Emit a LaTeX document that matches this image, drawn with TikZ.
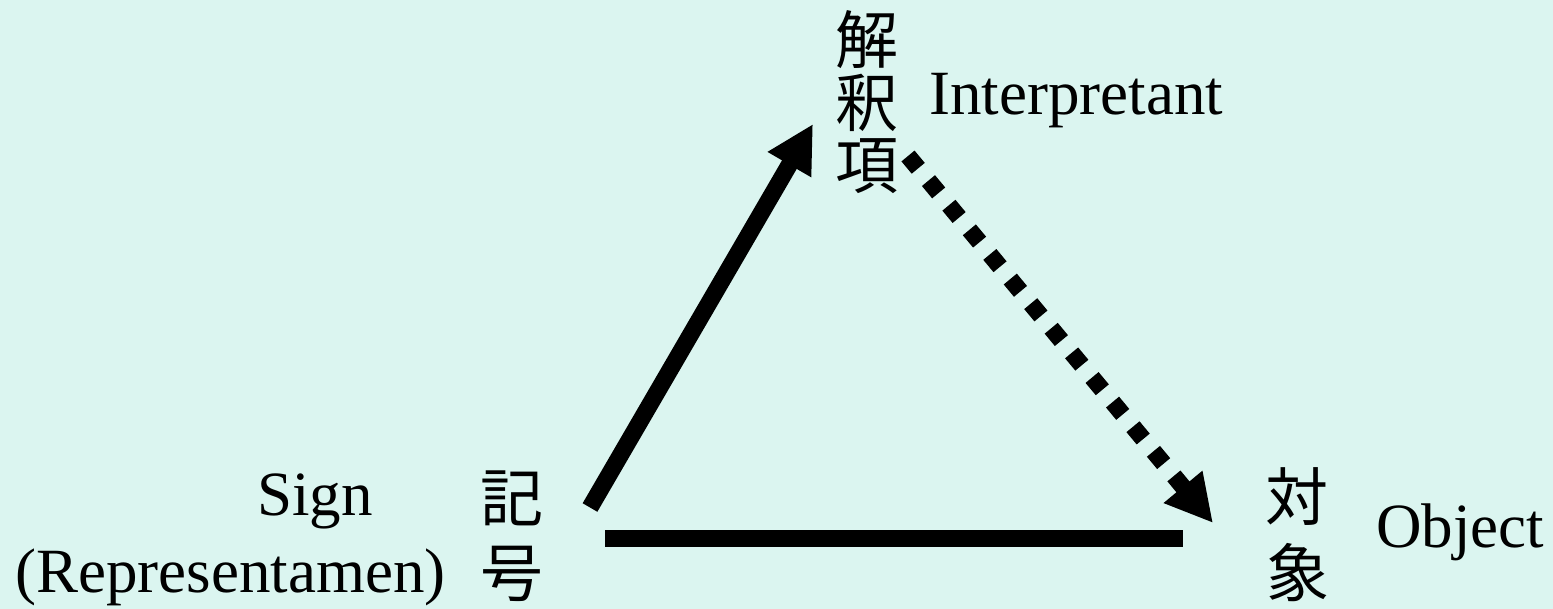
\documentclass[tikz,border=0pt]{standalone}
\usepackage{fontspec}
\setmainfont{Liberation Serif}
\newfontfamily\cjk{Noto Sans CJK JP}
\usetikzlibrary{arrows.meta}
\definecolor{bg}{RGB}{219,245,240}
\begin{document}
\begin{tikzpicture}[x=1pt,y=-1pt,
  lbl/.style={inner sep=0pt, anchor=base west, font=\fontsize{63}{70}\selectfont},
  kj/.style={inner sep=0pt, anchor=center, font=\cjk\fontsize{63}{70}\selectfont},
  link/.style={line width=17pt},
  tipstyle/.style={-{Triangle[length=47pt,width=47pt]}}
]
\fill[bg] (0,0) rectangle (1553,609);
\useasboundingbox (0,0) rectangle (1553,609);
% labels
\node[kj] (k1) at (866.5,39.5) {解};
\node[kj] (k2) at (866.5,102.5) {釈};
\node[kj] (k3) at (866.5,166.5) {項};
\node[lbl] (interp) at (929,115) {Interpretant};
\node[kj] (s1) at (511.5,498.5) {記};
\node[kj] (s2) at (511.5,573.5) {号};
\node[lbl] (sign) at (257,515) {Sign};
\node[lbl] (repr) at (15,592) {(Representamen)};
\node[kj] (o1) at (1297,496.5) {対};
\node[kj] (o2) at (1298,572.5) {象};
\node[lbl] (obj) at (1376,547) {Object};
% connector ends
\coordinate (sA) at (590,507.5);
\coordinate (iA) at (813,124);
\coordinate (iB) at (908,156);
\coordinate (oA) at (1213,523);
\coordinate (sB) at (605,538.5);
\coordinate (oB) at (1183,538.5);
\draw[link,tipstyle] (sA) -- (iA);
\draw[link,tipstyle,dash pattern=on 16pt off 16pt] (iB) -- (oA);
\draw[link] (sB) -- (oB);
\end{tikzpicture}
\end{document}
